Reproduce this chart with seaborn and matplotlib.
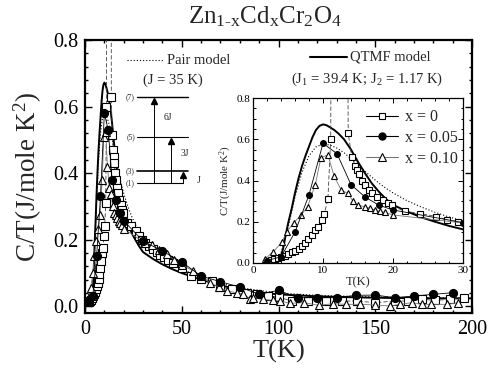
import numpy as np
import pandas as pd
import matplotlib
matplotlib.use("Agg")
import matplotlib.pyplot as plt
from matplotlib.lines import Line2D
from matplotlib.ticker import MultipleLocator
import seaborn as sns

sns.set_theme(style="ticks")
plt.rcParams['font.family'] = ['Liberation Serif', 'DejaVu Serif']
plt.rcParams['mathtext.fontset'] = 'custom'
plt.rcParams['mathtext.rm'] = 'Liberation Serif'
plt.rcParams['mathtext.it'] = 'Liberation Serif:italic'

# ---------------- data ----------------
T_x0 = [2.0, 2.5, 3.0, 3.5, 4.0, 4.5, 5.0, 5.5, 6.0, 6.5, 7.0, 7.4, 7.9, 8.4, 8.9, 9.3,
        9.8, 10.2, 10.7, 11.1, 11.25, 13.4, 13.6, 14.1, 14.6, 14.8, 15.1, 15.5, 16.0,
        16.5, 17.0, 17.7, 18.6, 19.3, 19.8, 21.7, 23.9, 26.2, 27.7, 29.3, 31, 33, 35,
        37, 39, 41, 43, 45.6, 50, 55, 60, 65.5, 70, 75.8, 83.6, 89, 94.7, 100, 106.8,
        115.4, 124.5, 133, 140.4, 149.9, 160, 167, 174, 181, 188.6, 196]
CT_x0 = [0.012, 0.016, 0.020, 0.025, 0.030, 0.036, 0.043, 0.051, 0.060, 0.070, 0.083,
         0.097, 0.115, 0.136, 0.160, 0.176, 0.210, 0.240, 0.310, 0.600, 2.0, 2.0, 0.630,
         0.516, 0.470, 0.450, 0.430, 0.400, 0.380, 0.355, 0.340, 0.320, 0.305, 0.290,
         0.280, 0.250, 0.240, 0.225, 0.210, 0.200, 0.190, 0.180, 0.172, 0.163, 0.155,
         0.147, 0.139, 0.131, 0.116, 0.090, 0.083, 0.076, 0.058, 0.051, 0.041, 0.036,
         0.031, 0.028, 0.016, 0.016, 0.016, 0.016, 0.016, 0.011, 0.016, 0.016, 0.021,
         0.018, 0.021, 0.026]

T_x05 = [2, 4, 6, 8, 10, 12, 14, 16, 18, 20, 30, 40, 50, 60, 70, 80, 90, 100, 110,
         120, 130, 140, 150, 160, 170, 180, 190]
CT_x05 = [0.012, 0.030, 0.150, 0.330, 0.580, 0.530, 0.380, 0.320, 0.280, 0.257, 0.196,
          0.166, 0.133, 0.091, 0.074, 0.058, 0.036, 0.048, 0.026, 0.026, 0.026, 0.033,
          0.034, 0.026, 0.031, 0.036, 0.041]

T_x10 = [1.7, 2.9, 4.1, 4.8, 5.8, 6.9, 7.8, 8.9, 9.7, 10.7, 11.6, 12.6, 13.5, 14.3, 15.0,
         16.0, 16.7, 17.4, 18.1, 18.9, 20.0, 31, 34.4, 38, 42.2, 46, 50, 56, 60, 64.6,
         69, 73.2, 78.4, 81.8, 85.3, 87, 92, 97, 100.8, 106, 113, 121, 128, 135, 142,
         150, 157.6, 163, 168.8, 174, 179, 187, 193]
CT_x10 = [0.020, 0.055, 0.100, 0.150, 0.195, 0.233, 0.273, 0.380, 0.510, 0.524, 0.420,
          0.354, 0.338, 0.300, 0.280, 0.273, 0.265, 0.257, 0.250, 0.245, 0.233, 0.190,
          0.183, 0.170, 0.156, 0.140, 0.125, 0.106, 0.090, 0.071, 0.058, 0.046, 0.041,
          0.036, 0.023, 0.026, 0.021, 0.018, 0.016, 0.009, 0.011, 0.003, 0.008, 0.006,
          0.006, 0.004, 0.001, 0.006, 0.011, 0.006, 0.006, 0.006, 0.011]

T_qtmf = [3.5, 3.9, 4.3, 4.7, 5.0, 5.5, 6.0, 6.5, 7.0, 7.5, 8.0, 8.5, 9.0, 9.5, 10.0,
          10.5, 11.0, 11.6, 12.2, 13.0, 14.0, 15.0, 16.0, 17.0, 18.0, 19.0, 20.0, 22,
          24, 26, 28, 30, 35, 40, 45, 50, 60, 70, 80, 90, 100, 120, 140, 160, 180, 200]
CT_qtmf = [0.0, 0.02, 0.07, 0.14, 0.19, 0.26, 0.34, 0.41, 0.47, 0.52, 0.565, 0.61,
           0.645, 0.665, 0.672, 0.668, 0.658, 0.645, 0.628, 0.60, 0.55, 0.49, 0.435,
           0.385, 0.345, 0.31, 0.282, 0.25, 0.222, 0.200, 0.180, 0.163, 0.143, 0.126,
           0.112, 0.100, 0.080, 0.063, 0.050, 0.042, 0.036, 0.030, 0.027, 0.025, 0.024,
           0.024]

T_pair = [3.0, 4.0, 5.0, 6.0, 7.0, 8.0, 9.0, 10.0, 11.0, 12.0, 13.0, 14.0, 15.0, 16.0,
          17.0, 18.0, 19.0, 20.0, 22, 24, 26, 28, 30, 35, 40, 50, 60, 70, 80, 100, 120,
          150, 200]
CT_pair = [0.0, 0.05, 0.17, 0.32, 0.44, 0.52, 0.563, 0.576, 0.572, 0.557, 0.535, 0.505,
           0.475, 0.445, 0.415, 0.387, 0.362, 0.340, 0.302, 0.272, 0.246, 0.223, 0.205,
           0.175, 0.150, 0.112, 0.087, 0.069, 0.056, 0.040, 0.033, 0.028, 0.025]

df0 = pd.DataFrame({"T": T_x0, "CT": CT_x0})
df5 = pd.DataFrame({"T": T_x05, "CT": CT_x05})
df10 = pd.DataFrame({"T": T_x10, "CT": CT_x10})
dfq = pd.DataFrame({"T": T_qtmf, "CT": CT_qtmf})
dfp = pd.DataFrame({"T": T_pair, "CT": CT_pair})

W, H = 491, 377
fig = plt.figure(figsize=(W / 100, H / 100), dpi=100)
fig.patch.set_facecolor("white")


def fx(x):
    return x / W


def fy(y):
    return 1 - y / H


ax = fig.add_axes([fx(85), fy(313), fx(472) - fx(85), fy(40) - fy(313)])
ins = fig.add_axes([fx(253), fy(263), fx(463) - fx(253), fy(98) - fy(263)])


def draw(a, ms, lw_model):
    sns.lineplot(data=dfp, x="T", y="CT", ax=a, color="black", lw=0.8,
                 linestyle=(0, (1, 1.8)), sort=False, estimator=None, zorder=2)
    sns.lineplot(data=dfq, x="T", y="CT", ax=a, color="black", lw=lw_model,
                 sort=False, estimator=None, zorder=2)
    sns.lineplot(data=df0, x="T", y="CT", ax=a, color="#444444", lw=0.6,
                 linestyle=(0, (5, 2.5)), marker="s", markersize=ms, mfc="white",
                 mec="black", mew=0.8, sort=False, estimator=None, zorder=3)
    sns.lineplot(data=df10, x="T", y="CT", ax=a, color="#777777", lw=0.6,
                 marker="^", markersize=ms + 0.6, mfc="white", mec="black", mew=0.8,
                 sort=False, estimator=None, zorder=3)
    sns.lineplot(data=df5, x="T", y="CT", ax=a, color="black", lw=0.6,
                 marker="o", markersize=ms, mfc="black", mec="black", mew=0.8,
                 sort=False, estimator=None, zorder=4)


draw(ax, 5.8, 1.4)
draw(ins, 4.2, 1.4)

# ---- main axes styling ----
ax.set_xlim(0, 200)
ax.set_ylim(-0.02, 0.8)
ax.xaxis.set_major_locator(MultipleLocator(50))
ax.xaxis.set_minor_locator(MultipleLocator(10))
ax.yaxis.set_major_locator(MultipleLocator(0.2))
ax.yaxis.set_minor_locator(MultipleLocator(0.04))
ax.yaxis.set_major_formatter(matplotlib.ticker.FormatStrFormatter('%.1f'))
ax.tick_params(which="both", direction="in", top=True, right=True, colors="black",
               width=1.0)
ax.tick_params(which="major", length=5, labelsize=14.5, pad=5)
ax.tick_params(which="minor", length=2.5)
for s in ax.spines.values():
    s.set_linewidth(1.6)
    s.set_color("black")
ax.set_xlabel("T(K)", fontsize=19, labelpad=1)
ax.set_ylabel(r"C/T(J/mole K$^2$)", fontsize=19.5, labelpad=6)

# ---- inset styling ----
ins.set_xlim(0, 30)
ins.set_ylim(0, 0.8)
ins.xaxis.set_major_locator(MultipleLocator(10))
ins.xaxis.set_minor_locator(MultipleLocator(2))
ins.yaxis.set_major_locator(MultipleLocator(0.2))
ins.yaxis.set_minor_locator(MultipleLocator(0.05))
ins.yaxis.set_major_formatter(matplotlib.ticker.FormatStrFormatter('%.1f'))
ins.tick_params(which="both", direction="in", top=True, right=True, colors="black",
                width=0.7)
ins.tick_params(which="major", length=3.5, labelsize=8, pad=2)
ins.tick_params(which="minor", length=1.8)
for s in ins.spines.values():
    s.set_linewidth(0.9)
    s.set_color("black")
ins.set_xlabel("T(K)", fontsize=9, labelpad=1)
ins.set_ylabel(r"C/T(J/mole K$^2$)", fontsize=8, labelpad=2)
ins.set_facecolor("white")

leg_handles = [
    Line2D([], [], color="black", lw=0.8, marker="s", markersize=5, mfc="white",
           mec="black", mew=0.8),
    Line2D([], [], color="black", lw=0.8, marker="o", markersize=5, mfc="black",
           mec="black"),
    Line2D([], [], color="#777777", lw=0.8, marker="^", markersize=5.5, mfc="white",
           mec="black", mew=0.8),
]
ins.legend(leg_handles, ["x = 0", "x = 0.05", "x = 0.10"], loc="upper right",
           bbox_to_anchor=(1.02, 0.99), frameon=False, fontsize=11.5,
           handlelength=2.0, handletextpad=0.4, labelspacing=0.3, borderaxespad=0.2)

# ---- title ----
fig.text(fx(265), fy(17), r"Zn$_{\mathrm{1\text{-}x}}$Cd$_{\mathrm{x}}$Cr$_{2}$O$_{4}$",
         ha="center", va="center", fontsize=18)

# ---- model legends ----
fig.add_artist(Line2D([fx(127), fx(163)], [fy(60), fy(60)], color="black", lw=0.8,
                      linestyle=(0, (1, 1.8))))
fig.text(fx(167), fy(60), "Pair model", ha="left", va="center", fontsize=10.5)
fig.text(fx(173), fy(80), "(J = 35 K)", ha="center", va="center", fontsize=10.5)
fig.add_artist(Line2D([fx(310), fx(347)], [fy(57), fy(57)], color="black", lw=1.5))
fig.text(fx(350), fy(57), "QTMF model", ha="left", va="center", fontsize=10.5)
fig.text(fx(367), fy(79), r"(J$_{1}$ = 39.4 K; J$_{2}$ = 1.17 K)", ha="center",
         va="center", fontsize=10.5)

# ---- energy level diagram ----
levels = [("(7)", 97, 137, 188, 1.0), ("(5)", 137, 137, 188, 0.8),
          ("(3)", 171, 137, 188, 1.2), ("(1)", 183, 137, 183, 0.8)]
for lab, y, x0, x1, lw in levels:
    fig.add_artist(Line2D([fx(x0), fx(x1)], [fy(y), fy(y)], color="black", lw=lw))
    fig.text(fx(135), fy(y), lab, ha="right", va="center", fontsize=5.5)
for x, ytop in [(154, 97), (171, 137), (183, 171)]:
    fig.add_artist(Line2D([fx(x), fx(x)], [fy(183), fy(ytop + 4)], color="black",
                          lw=0.7))
    fig.add_artist(Line2D([fx(x)], [fy(ytop + 4)], marker="^", markersize=4,
                          color="black", lw=0))
fig.text(fx(168), fy(118), "6J", ha="center", va="center", fontsize=7)
fig.text(fx(185), fy(153), "3J", ha="center", va="center", fontsize=7)
fig.text(fx(199), fy(181), "J", ha="center", va="center", fontsize=7)

fig.savefig("out.png", dpi=100, facecolor="white")
